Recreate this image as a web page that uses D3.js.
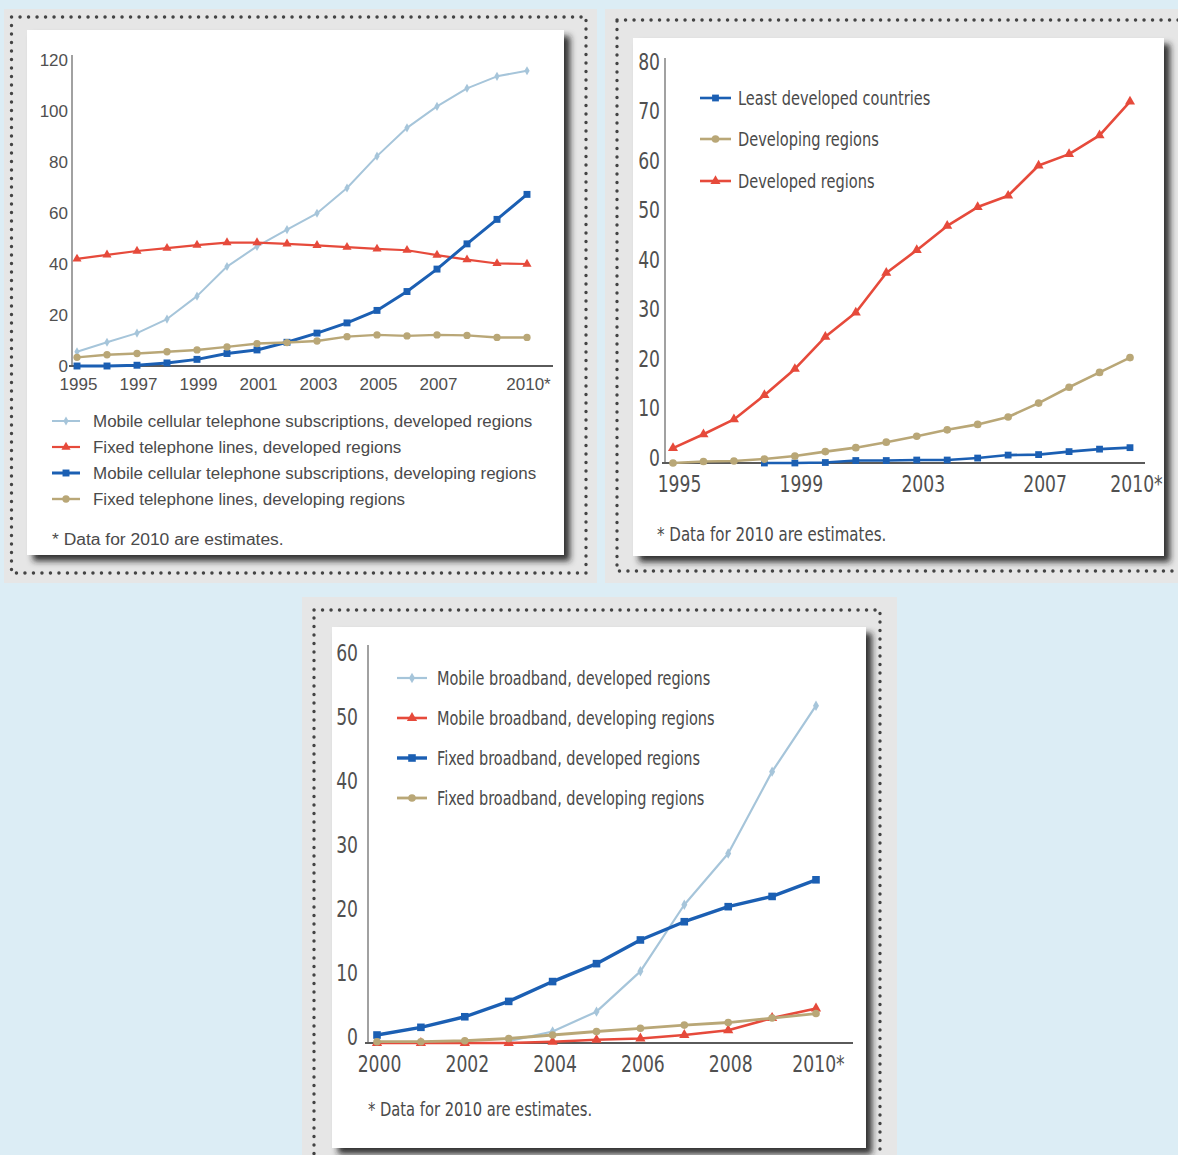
<!DOCTYPE html>
<html>
<head>
<meta charset="utf-8">
<script src="https://cdn.jsdelivr.net/npm/d3@7"></script>
<style>
  body { margin: 0; background: #dcedf5; }
  svg { display: block; }
</style>
</head>
<body>
<script>
// ---- data (per 100 inhabitants) ----
const years9510 = [1995, 1996, 1997, 1998, 1999, 2000, 2001, 2002, 2003, 2004, 2005, 2006, 2007, 2008, 2009, 2010];
const years0010 = [2000, 2001, 2002, 2003, 2004, 2005, 2006, 2007, 2008, 2009, 2010];

// chart 1: telephone lines and mobile subscriptions
const mobileDeveloped  = [5.6, 9.3, 12.9, 18.4, 27.4, 39, 46.9, 53.5, 59.9, 69.8, 82.3, 93.4, 101.8, 108.9, 113.6, 115.8];
const fixedDeveloped   = [42, 43.6, 45.1, 46.2, 47.4, 48.4, 48.4, 47.9, 47.3, 46.6, 45.9, 45.4, 43.5, 41.7, 40.2, 40];
const mobileDeveloping = [0, 0, 0.3, 1.2, 2.6, 4.9, 6.3, 9.3, 12.9, 16.9, 21.8, 29.2, 38, 47.9, 57.5, 67.3];
const fixedDeveloping  = [3.4, 4.4, 4.9, 5.6, 6.3, 7.5, 8.8, 9.2, 9.8, 11.5, 12.2, 11.8, 12.2, 12, 11.2, 11.2];

// chart 2: internet users
const ldcUsers        = [null, null, null, 0, 0, 0.1, 0.5, 0.5, 0.6, 0.6, 1.0, 1.6, 1.7, 2.3, 2.8, 3.1];
const developingUsers = [0, 0.3, 0.4, 0.8, 1.4, 2.3, 3.1, 4.2, 5.4, 6.7, 7.8, 9.3, 12.1, 15.3, 18.3, 21.3];
const developedUsers  = [3, 5.8, 8.8, 13.7, 19, 25.5, 30.4, 38.4, 43, 47.9, 51.7, 54, 60.1, 62.4, 66.2, 73];

// chart 3: broadband
const mobileBbDeveloped  = [null, null, null, 0.3, 1.8, 4.9, 11.2, 21.6, 29.6, 42.4, 52.7];
const mobileBbDeveloping = [0, 0, 0, 0, 0.2, 0.5, 0.7, 1.25, 2.0, 3.9, 5.4];
const fixedBbDeveloped   = [1.25, 2.45, 4.1, 6.5, 9.6, 12.4, 16.1, 18.95, 21.3, 22.9, 25.5];
const fixedBbDeveloping  = [0.2, 0.2, 0.35, 0.7, 1.25, 1.8, 2.3, 2.8, 3.2, 3.9, 4.6];

const ticks1x = [1995, 1997, 1999, 2001, 2003, 2005, 2007, 2010];
const ticks1y = [0, 20, 40, 60, 80, 100, 120];
const ticks2x = [1995, 1999, 2003, 2007, 2010];
const ticks2y = [0, 10, 20, 30, 40, 50, 60, 70, 80];
const ticks3x = [2000, 2002, 2004, 2006, 2008, 2010];
const ticks3y = [0, 10, 20, 30, 40, 50, 60];

const note = "* Data for 2010 are estimates.";

const colors = { lightBlue: "#a6c5da", red: "#e64a3b", blue: "#1b5fb3", tan: "#b9a777" };
const narrow = "'Liberation Sans Narrow', 'DejaVu Sans Condensed', 'Liberation Sans', sans-serif";
const regular = "'Liberation Sans', Arial, sans-serif";

const svg = d3.select("body").append("svg")
  .attr("width", 1178)
  .attr("height", 1155);

svg.append("defs").append("filter")
  .attr("id", "shadow")
  .attr("x", "-5%").attr("y", "-5%").attr("width", "115%").attr("height", "115%")
  .append("feDropShadow")
  .attr("dx", 6).attr("dy", 6)
  .attr("stdDeviation", 3)
  .attr("flood-color", "#1e1e1e")
  .attr("flood-opacity", 0.9);

// squeeze or widen text a bit, the original type is a condensed Futura
function fit(sel, k){
  sel.each(function(){
    let len = this.getComputedTextLength();
    d3.select(this)
      .attr("textLength", len * k)
      .attr("lengthAdjust", "spacingAndGlyphs");
  });
}

function drawFrame(f){
  svg.append("rect")
    .attr("x", f.x).attr("y", f.y).attr("width", f.w).attr("height", f.h)
    .attr("fill", "#e6e6e6");
  svg.append("rect")
    .attr("x", f.dx).attr("y", f.dy).attr("width", f.dw).attr("height", f.dh)
    .attr("fill", "none")
    .attr("stroke", "#444")
    .attr("stroke-width", 3.4)
    .attr("stroke-linecap", "round")
    .attr("stroke-dasharray", "0.1 8.4");
  svg.append("rect")
    .attr("x", f.cx).attr("y", f.cy).attr("width", f.cw).attr("height", f.ch)
    .attr("fill", "#fff")
    .attr("filter", "url(#shadow)");
}

const markers = {
  diamond: d3.symbolDiamond,
  triangle: d3.symbolTriangle,
  square: d3.symbolSquare,
  circle: d3.symbolCircle
};

function drawChart(c){
  let g = svg.append("g");
  let x = d3.scaleLinear().domain(c.xDomain).range(c.xRange);
  let y = d3.scaleLinear().domain(c.yDomain).range(c.yRange);
  let base = y(0);

  // axis lines
  g.append("line")
    .attr("x1", c.axisX).attr("x2", c.axisX)
    .attr("y1", c.yTop).attr("y2", base)
    .attr("stroke", "#8a8a8a").attr("stroke-width", 1.6);
  g.append("line")
    .attr("x1", c.axisX - 3).attr("x2", c.xEnd)
    .attr("y1", base).attr("y2", base)
    .attr("stroke", "#5a5a5a").attr("stroke-width", 2);

  let yAxis = g.append("g")
    .attr("transform", `translate(${c.axisX},0)`)
    .call(d3.axisLeft(y).tickValues(c.yTicks).tickSize(0).tickPadding(c.yPad));
  yAxis.select(".domain").remove();
  yAxis.selectAll("text")
    .attr("y", c.yShift)
    .attr("font-family", c.font)
    .attr("font-size", c.tickSize)
    .attr("fill", "#505050")
    .call(fit, c.fit.tick);

  let xAxis = g.append("g")
    .attr("transform", `translate(0,${base})`)
    .call(d3.axisBottom(x).tickValues(c.xTicks).tickSize(0)
      .tickFormat(d => d === 2010 ? "2010*" : d));
  xAxis.select(".domain").remove();
  xAxis.selectAll("text")
    .attr("x", c.xShift)
    .attr("y", c.labelY - base)
    .attr("dy", "0.35em")
    .attr("font-family", c.font)
    .attr("font-size", c.tickSize)
    .attr("fill", "#505050")
    .call(fit, c.fit.tick);

  let line = d3.line()
    .defined(d => d.v != null)
    .x(d => x(d.year))
    .y(d => y(d.v));

  c.series.forEach(s => {
    let pts = c.years.map((year, i) => ({year, v: s.values[i]}));
    g.append("path")
      .datum(pts)
      .attr("fill", "none")
      .attr("stroke", s.color)
      .attr("stroke-width", s.width)
      .attr("stroke-linejoin", "round")
      .attr("d", line);
    g.selectAll(null)
      .data(pts.filter(d => d.v != null))
      .enter().append("path")
      .attr("transform", d => `translate(${x(d.year)},${y(d.v)})`)
      .attr("d", d3.symbol().type(markers[s.marker]).size(s.size * c.markerScale))
      .attr("fill", s.color);
  });

  // legend
  let legend = g.append("g");
  c.series.forEach((s, i) => {
    let ly = c.legend.y[i];
    legend.append("line")
      .attr("x1", c.legend.x).attr("x2", c.legend.x + c.legend.len)
      .attr("y1", ly).attr("y2", ly)
      .attr("stroke", s.color).attr("stroke-width", s.width);
    legend.append("path")
      .attr("transform", `translate(${c.legend.x + c.legend.len / 2},${ly})`)
      .attr("d", d3.symbol().type(markers[s.marker]).size(s.size * c.markerScale))
      .attr("fill", s.color);
    legend.append("text")
      .attr("x", c.legend.textX).attr("y", ly)
      .attr("dy", "0.35em")
      .attr("font-family", c.font)
      .attr("font-size", c.legendSize)
      .attr("fill", "#4a4a4a")
      .text(s.name)
      .call(fit, c.fit.legend);
  });

  g.append("text")
    .attr("x", c.noteX).attr("y", c.noteY)
    .attr("dy", "0.35em")
    .attr("font-family", c.font)
    .attr("font-size", c.noteSize)
    .attr("fill", "#4a4a4a")
    .text(note)
    .call(fit, c.fit.note);
}

// frames
drawFrame({x: 4, y: 9, w: 593, h: 574, dx: 11.5, dy: 17, dw: 574.5, dh: 556, cx: 27, cy: 30, cw: 537, ch: 525});
drawFrame({x: 605, y: 9, w: 580, h: 574, dx: 617, dy: 20, dw: 580, dh: 551, cx: 633, cy: 38, cw: 531, ch: 518});
drawFrame({x: 302, y: 597, w: 595, h: 570, dx: 314, dy: 610, dw: 566, dh: 560, cx: 332, cy: 627, cw: 534, ch: 521});

drawChart({
  years: years9510,
  xDomain: [1995, 2010], xRange: [77, 527],
  yDomain: [0, 120], yRange: [366, 60],
  axisX: 72, yTop: 55, xEnd: 553,
  xTicks: ticks1x, yTicks: ticks1y,
  yPad: 4, yShift: 0, xShift: 1, labelY: 384,
  font: regular, tickSize: 17, legendSize: 16, noteSize: 16,
  fit: {tick: 1, legend: 1.06, note: 1.09},
  markerScale: 1,
  series: [
    {name: "Mobile cellular telephone subscriptions, developed regions", values: mobileDeveloped, color: colors.lightBlue, marker: "diamond", size: 24, width: 2},
    {name: "Fixed telephone lines, developed regions", values: fixedDeveloped, color: colors.red, marker: "triangle", size: 36, width: 2.2},
    {name: "Mobile cellular telephone subscriptions, developing regions", values: mobileDeveloping, color: colors.blue, marker: "square", size: 48, width: 3},
    {name: "Fixed telephone lines, developing regions", values: fixedDeveloping, color: colors.tan, marker: "circle", size: 42, width: 2.4}
  ],
  legend: {x: 52, len: 28, textX: 93, y: [421, 447, 473, 499]},
  noteX: 52, noteY: 539
});

drawChart({
  years: years9510,
  xDomain: [1995, 2010], xRange: [673, 1130],
  yDomain: [0, 80], yRange: [463, 67],
  axisX: 665, yTop: 58, xEnd: 1145,
  xTicks: ticks2x, yTicks: ticks2y,
  yPad: 5, yShift: -5, xShift: 6, labelY: 484,
  font: narrow, tickSize: 23, legendSize: 20, noteSize: 19,
  fit: {tick: 0.83, legend: 0.81, note: 0.88},
  markerScale: 1.1,
  series: [
    {name: "Least developed countries", values: ldcUsers, color: colors.blue, marker: "square", size: 42, width: 2.6},
    {name: "Developing regions", values: developingUsers, color: colors.tan, marker: "circle", size: 42, width: 2.6},
    {name: "Developed regions", values: developedUsers, color: colors.red, marker: "triangle", size: 40, width: 2.6}
  ],
  legend: {x: 700, len: 31, textX: 738, y: [98, 139, 181]},
  noteX: 657, noteY: 534
});

drawChart({
  years: years0010,
  xDomain: [2000, 2010], xRange: [377, 816],
  yDomain: [0, 60], yRange: [1043, 659],
  axisX: 368, yTop: 645, xEnd: 853,
  xTicks: ticks3x, yTicks: ticks3y,
  yPad: 10, yShift: -6, xShift: 2, labelY: 1064,
  font: narrow, tickSize: 23, legendSize: 20, noteSize: 19,
  fit: {tick: 0.83, legend: 0.805, note: 0.86},
  markerScale: 1.2,
  series: [
    {name: "Mobile broadband, developed regions", values: mobileBbDeveloped, color: colors.lightBlue, marker: "diamond", size: 26, width: 2.2},
    {name: "Mobile broadband, developing regions", values: mobileBbDeveloping, color: colors.red, marker: "triangle", size: 38, width: 2.6},
    {name: "Fixed broadband, developed regions", values: fixedBbDeveloped, color: colors.blue, marker: "square", size: 48, width: 3.4},
    {name: "Fixed broadband, developing regions", values: fixedBbDeveloping, color: colors.tan, marker: "circle", size: 38, width: 2.8}
  ],
  legend: {x: 397, len: 30, textX: 437, y: [678, 718, 758, 798]},
  noteX: 368, noteY: 1109
});
</script>
</body>
</html>
